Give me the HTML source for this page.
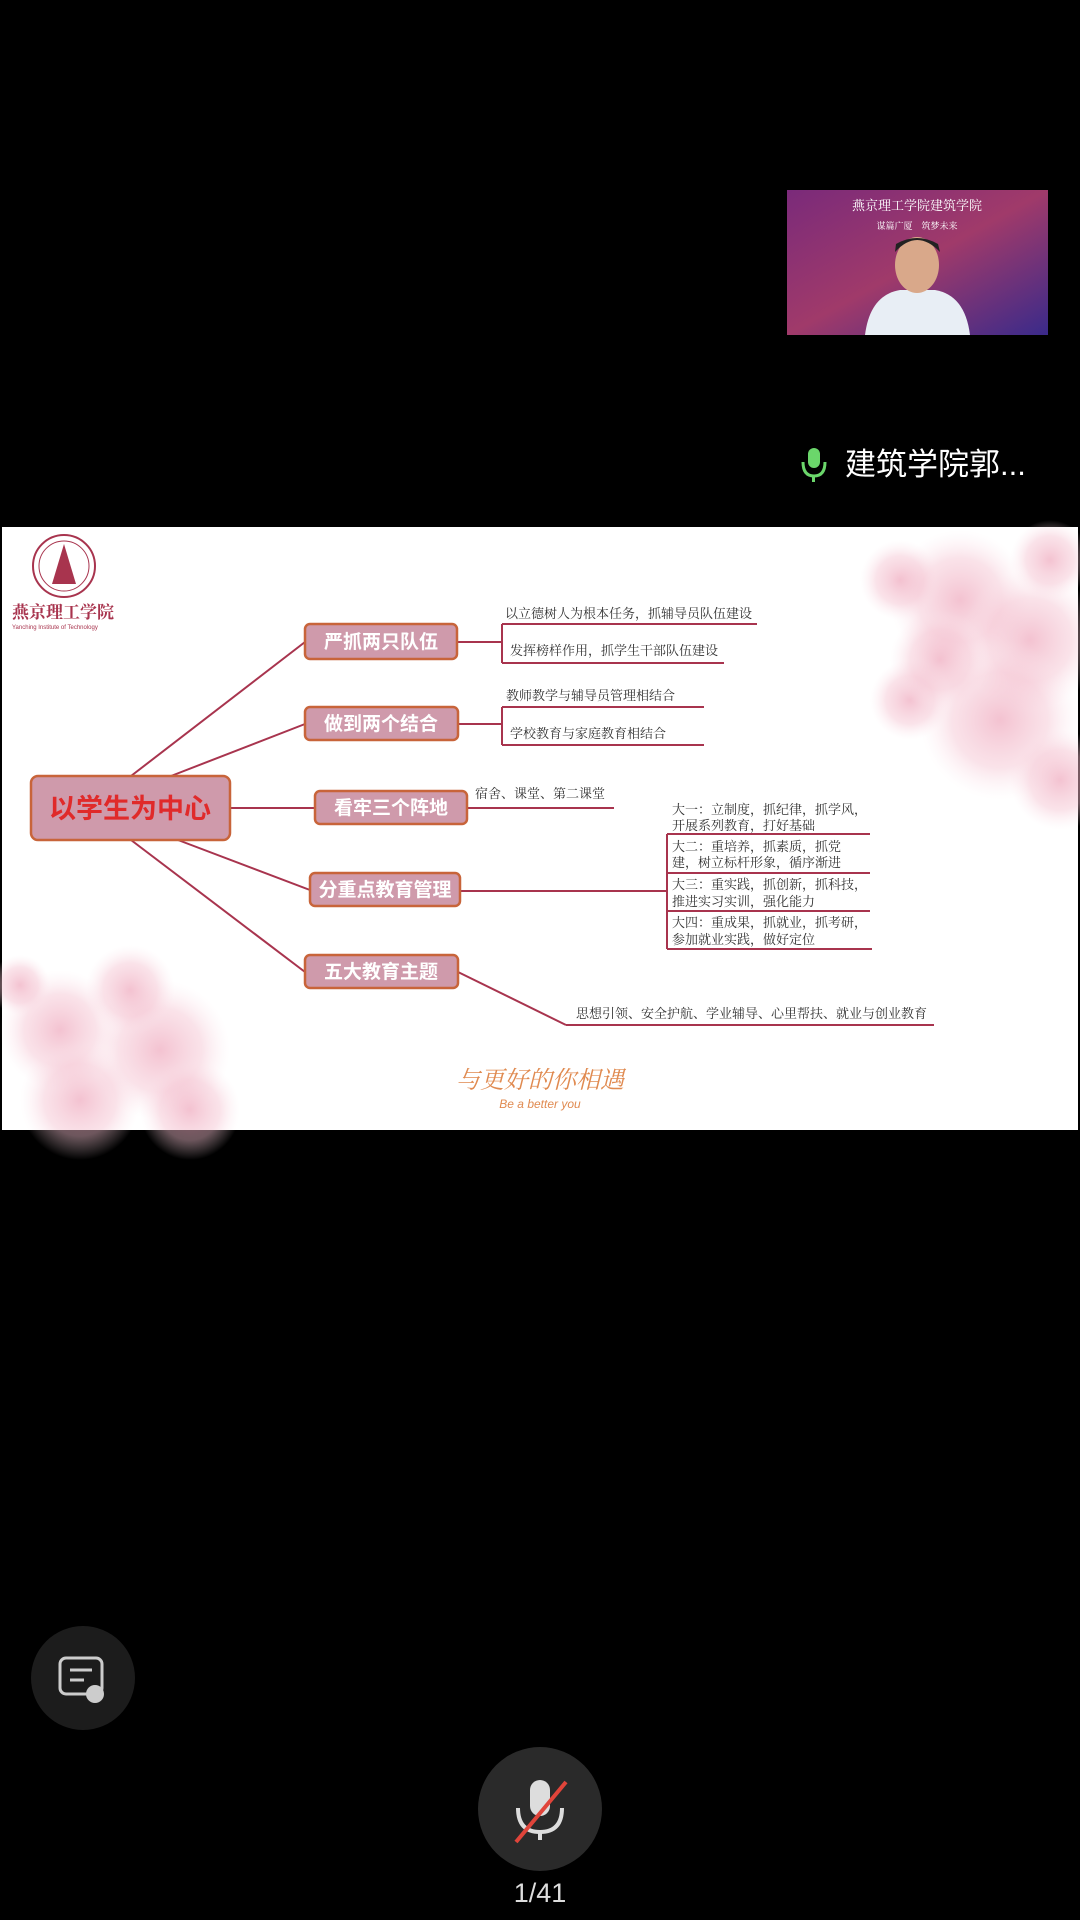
<!DOCTYPE html>
<html><head><meta charset="utf-8"><style>
html,body{margin:0;padding:0;background:#000;}
body{width:1080px;height:1920px;position:relative;overflow:hidden;font-family:"Liberation Sans","Noto Sans CJK SC",sans-serif;}
</style></head><body>
<svg width="1080" height="1920" viewBox="0 0 1080 1920" xmlns="http://www.w3.org/2000/svg" style="position:absolute;left:0;top:0">
<defs>
<radialGradient id="fl" cx="50%" cy="50%" r="50%">
<stop offset="0" stop-color="#ec9ab2" stop-opacity="0.6"/>
<stop offset="0.6" stop-color="#f4c0cf" stop-opacity="0.45"/>
<stop offset="1" stop-color="#fbe3ea" stop-opacity="0"/>
</radialGradient>
<linearGradient id="cam" x1="0" y1="0" x2="1" y2="1">
<stop offset="0" stop-color="#7a2a7a"/><stop offset="0.5" stop-color="#a03a6a"/><stop offset="1" stop-color="#3a2a8a"/>
</linearGradient>
</defs>
<rect x="787" y="190" width="261" height="145" fill="url(#cam)"/>
<text x="917" y="210" font-size="13" fill="#fff" text-anchor="middle" font-family="Noto Serif CJK SC, serif">燕京理工学院建筑学院</text>
<text x="917" y="229" font-size="9" fill="#fff" text-anchor="middle" font-family="Noto Serif CJK SC, serif">谋篇广厦　筑梦未来</text>
<path d="M865 335 Q870 295 900 290 L935 290 Q965 295 970 335 Z" fill="#e8eef5"/>
<ellipse cx="917" cy="265" rx="22" ry="28" fill="#d9a88a"/>
<path d="M895 252 Q917 228 940 252 L938 244 Q917 232 896 244Z" fill="#222"/>
<rect x="808" y="448" width="12" height="20" rx="6" fill="#6bd66b"/>
<path d="M803 462 Q803 476 814 476 Q825 476 825 462" stroke="#6bd66b" stroke-width="3" fill="none"/>
<rect x="812" y="476" width="3" height="6" fill="#6bd66b"/>
<text x="845" y="475" font-size="31" fill="#fff">建筑学院郭...</text>
<rect x="2" y="527" width="1076" height="603" fill="#fff"/>
<g>
<circle cx="960" cy="600" r="70" fill="url(#fl)"/>
<circle cx="1030" cy="640" r="70" fill="url(#fl)"/>
<circle cx="900" cy="580" r="40" fill="url(#fl)"/>
<circle cx="1000" cy="720" r="80" fill="url(#fl)"/>
<circle cx="1060" cy="780" r="50" fill="url(#fl)"/>
<circle cx="910" cy="700" r="40" fill="url(#fl)"/>
<circle cx="1050" cy="560" r="40" fill="url(#fl)"/>
<circle cx="940" cy="660" r="50" fill="url(#fl)"/>
<circle cx="60" cy="1030" r="60" fill="url(#fl)"/>
<circle cx="160" cy="1050" r="70" fill="url(#fl)"/>
<circle cx="80" cy="1100" r="60" fill="url(#fl)"/>
<circle cx="190" cy="1110" r="50" fill="url(#fl)"/>
<circle cx="20" cy="985" r="30" fill="url(#fl)"/>
<circle cx="130" cy="990" r="45" fill="url(#fl)"/>
</g>
<circle cx="64" cy="566" r="31" fill="none" stroke="#a8344e" stroke-width="2"/>
<circle cx="64" cy="566" r="25" fill="none" stroke="#a8344e" stroke-width="1"/>
<path d="M64 544 L52 584 L76 584 Z" fill="#a8344e"/>
<text x="12" y="618" font-size="17" fill="#a8344e" font-weight="bold" font-family="Noto Serif CJK SC, serif">燕京理工学院</text>
<text x="12" y="629" font-size="6" fill="#a8344e">Yanching Institute of Technology</text>
<g stroke="#a8344e" stroke-width="2" fill="none">
<line x1="131" y1="776" x2="305" y2="642"/>
<line x1="171" y1="776" x2="305" y2="724"/>
<line x1="230" y1="808" x2="315" y2="808"/>
<line x1="178" y1="840" x2="310" y2="890"/>
<line x1="131" y1="840" x2="305" y2="972"/>
<line x1="457" y1="642" x2="502" y2="642"/>
<line x1="502" y1="624" x2="502" y2="663"/>
<line x1="502" y1="624" x2="757" y2="624"/>
<line x1="502" y1="663" x2="724" y2="663"/>
<line x1="458" y1="724" x2="502" y2="724"/>
<line x1="502" y1="707" x2="502" y2="745"/>
<line x1="502" y1="707" x2="704" y2="707"/>
<line x1="502" y1="745" x2="704" y2="745"/>
<line x1="467" y1="808" x2="614" y2="808"/>
<line x1="460" y1="891" x2="667" y2="891"/>
<line x1="667" y1="834" x2="667" y2="949"/>
<line x1="667" y1="834" x2="870" y2="834"/>
<line x1="667" y1="873" x2="870" y2="873"/>
<line x1="667" y1="911" x2="870" y2="911"/>
<line x1="667" y1="949" x2="872" y2="949"/>
<line x1="458" y1="972" x2="566" y2="1025"/>
<line x1="566" y1="1025" x2="934" y2="1025"/>
</g>
<g stroke="#c8643a" stroke-width="2.5" fill="#cf9aab">
<rect x="31" y="776" width="199" height="64" rx="7"/>
<rect x="305" y="624" width="152" height="35" rx="5"/>
<rect x="305" y="707" width="153" height="33" rx="5"/>
<rect x="315" y="791" width="152" height="33" rx="5"/>
<rect x="310" y="873" width="150" height="33" rx="5"/>
<rect x="305" y="955" width="153" height="33" rx="5"/>
</g>
<text x="130" y="818" font-size="27" font-weight="bold" fill="#e02a2a" text-anchor="middle">以学生为中心</text>
<g font-size="19" font-weight="bold" fill="#fff" text-anchor="middle">
<text x="381" y="648">严抓两只队伍</text>
<text x="381" y="730">做到两个结合</text>
<text x="391" y="814">看牢三个阵地</text>
<text x="385" y="896">分重点教育管理</text>
<text x="381" y="978">五大教育主题</text>
</g>
<g font-size="13" fill="#333" font-family="Noto Serif CJK SC, serif">
<text x="505" y="618">以立德树人为根本任务，抓辅导员队伍建设</text>
<text x="510" y="655">发挥榜样作用，抓学生干部队伍建设</text>
<text x="506" y="700">教师教学与辅导员管理相结合</text>
<text x="510" y="738">学校教育与家庭教育相结合</text>
<text x="475" y="798">宿舍、课堂、第二课堂</text>
<text x="672" y="814">大一：立制度，抓纪律，抓学风，</text>
<text x="672" y="830">开展系列教育，打好基础</text>
<text x="672" y="851">大二：重培养，抓素质，抓党</text>
<text x="672" y="867">建，树立标杆形象，循序渐进</text>
<text x="672" y="889">大三：重实践，抓创新，抓科技，</text>
<text x="672" y="906">推进实习实训，强化能力</text>
<text x="672" y="927">大四：重成果，抓就业，抓考研，</text>
<text x="672" y="944">参加就业实践，做好定位</text>
<text x="576" y="1018">思想引领、安全护航、学业辅导、心里帮扶、就业与创业教育</text>
</g>
<text x="540" y="1088" font-size="24" fill="#e08a50" text-anchor="middle" font-style="italic" font-family="Noto Serif CJK SC, serif">与更好的你相遇</text>
<text x="540" y="1108" font-size="12" fill="#e08a50" text-anchor="middle" font-style="italic">Be a better you</text>
<circle cx="83" cy="1678" r="52" fill="#1c1c1c"/>
<rect x="60" y="1658" width="42" height="36" rx="6" fill="none" stroke="#ccc" stroke-width="3"/>
<line x1="70" y1="1670" x2="92" y2="1670" stroke="#ccc" stroke-width="3"/>
<line x1="70" y1="1680" x2="84" y2="1680" stroke="#ccc" stroke-width="3"/>
<circle cx="95" cy="1694" r="9" fill="#ccc"/>
<circle cx="540" cy="1809" r="62" fill="#2a2a2a"/>
<rect x="530" y="1780" width="20" height="36" rx="10" fill="#ddd"/>
<path d="M518 1808 Q518 1832 540 1832 Q562 1832 562 1808" stroke="#ddd" stroke-width="4" fill="none"/>
<rect x="538" y="1832" width="4" height="8" fill="#ddd"/>
<line x1="516" y1="1842" x2="566" y2="1782" stroke="#e0443a" stroke-width="4"/>
<text x="540" y="1902" font-size="27" fill="#ddd" text-anchor="middle">1/41</text>
</svg>
</body></html>
